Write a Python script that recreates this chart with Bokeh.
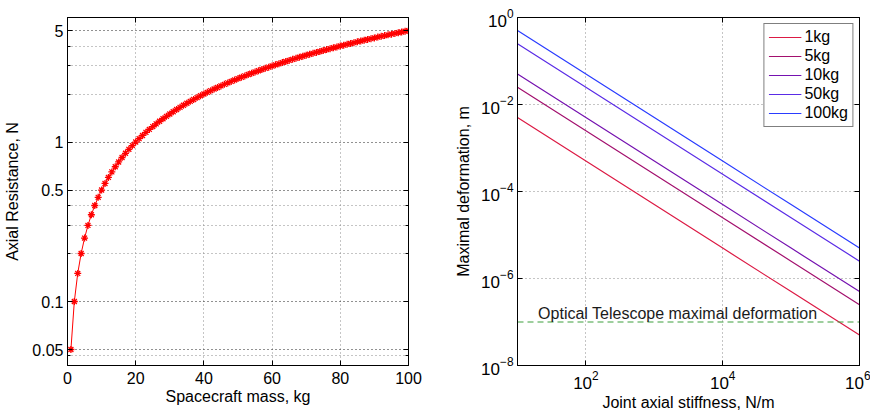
from bokeh.plotting import figure
from bokeh.models import (FixedTicker, LogAxis, LinearAxis, CustomJSTickFormatter,
                          LogTickFormatter, Range1d, Legend, LegendItem, Label)
from bokeh.layouts import row
from bokeh.embed import file_html
from bokeh.resources import INLINE

# ---------------- data ----------------
mass_kg = [1, 2, 3, 4, 5, 6, 7, 8, 9, 10,
           11, 12, 13, 14, 15, 16, 17, 18, 19, 20,
           21, 22, 23, 24, 25, 26, 27, 28, 29, 30,
           31, 32, 33, 34, 35, 36, 37, 38, 39, 40,
           41, 42, 43, 44, 45, 46, 47, 48, 49, 50,
           51, 52, 53, 54, 55, 56, 57, 58, 59, 60,
           61, 62, 63, 64, 65, 66, 67, 68, 69, 70,
           71, 72, 73, 74, 75, 76, 77, 78, 79, 80,
           81, 82, 83, 84, 85, 86, 87, 88, 89, 90,
           91, 92, 93, 94, 95, 96, 97, 98, 99, 100]
axial_resistance_N = [0.05, 0.10, 0.15, 0.20, 0.25, 0.30, 0.35, 0.40, 0.45, 0.50,
                      0.55, 0.60, 0.65, 0.70, 0.75, 0.80, 0.85, 0.90, 0.95, 1.00,
                      1.05, 1.10, 1.15, 1.20, 1.25, 1.30, 1.35, 1.40, 1.45, 1.50,
                      1.55, 1.60, 1.65, 1.70, 1.75, 1.80, 1.85, 1.90, 1.95, 2.00,
                      2.05, 2.10, 2.15, 2.20, 2.25, 2.30, 2.35, 2.40, 2.45, 2.50,
                      2.55, 2.60, 2.65, 2.70, 2.75, 2.80, 2.85, 2.90, 2.95, 3.00,
                      3.05, 3.10, 3.15, 3.20, 3.25, 3.30, 3.35, 3.40, 3.45, 3.50,
                      3.55, 3.60, 3.65, 3.70, 3.75, 3.80, 3.85, 3.90, 3.95, 4.00,
                      4.05, 4.10, 4.15, 4.20, 4.25, 4.30, 4.35, 4.40, 4.45, 4.50,
                      4.55, 4.60, 4.65, 4.70, 4.75, 4.80, 4.85, 4.90, 4.95, 5.00]

left_x_ticks = [0, 20, 40, 60, 80, 100]
left_y_ticks = [0.05, 0.1, 0.5, 1, 5]
left_y_minor = [0.046, 0.2, 0.3, 0.4, 2, 3, 4]

stiffness_Nm = [1e1, 1e2, 1e3, 1e4, 1e5, 1e6]
mass_labels = ["1kg", "5kg", "10kg", "50kg", "100kg"]
deformation_m = {
    "1kg":   [5e-3, 5e-4, 5e-5, 5e-6, 5e-7, 5e-8],
    "5kg":   [2.5e-2, 2.5e-3, 2.5e-4, 2.5e-5, 2.5e-6, 2.5e-7],
    "10kg":  [5e-2, 5e-3, 5e-4, 5e-5, 5e-6, 5e-7],
    "50kg":  [2.5e-1, 2.5e-2, 2.5e-3, 2.5e-4, 2.5e-5, 2.5e-6],
    "100kg": [5e-1, 5e-2, 5e-3, 5e-4, 5e-5, 5e-6],
}
telescope_x = [1e1, 1e6]
telescope_y = [1e-7, 1e-7]
right_x_ticks = [1e2, 1e4, 1e6]
right_y_ticks = [1e-8, 1e-6, 1e-4, 1e-2, 1e0]

line_colors = ["#dc1a44", "#a3106e", "#7512b0", "#5a2ce6", "#2a3cff"]

FONT = "Liberation Sans"
FS = "16px"
TFS = "17px"

def style_axis(ax, tfs=TFS):
    ax.axis_line_color = "black"
    ax.major_tick_in = 5
    ax.major_tick_out = 0
    ax.minor_tick_in = 3
    ax.minor_tick_out = 0
    ax.major_tick_line_color = "black"
    ax.minor_tick_line_color = "black"
    ax.major_label_text_font = FONT
    ax.major_label_text_font_size = tfs
    ax.major_label_text_color = "black"
    ax.axis_label_text_font = FONT
    ax.axis_label_text_font_size = FS
    ax.axis_label_text_font_style = "normal"
    ax.axis_label_text_color = "black"

blank = CustomJSTickFormatter(code="return '';")

# ---------------- left plot ----------------
p1 = figure(frame_width=341, frame_height=348,
            x_range=Range1d(0, 100), y_range=Range1d(0.0397, 6.04),
            y_axis_type="log", output_backend="svg", toolbar_location=None,
            min_border_left=67, min_border_right=27, min_border_top=17,
            min_border_bottom=46)
p1.outline_line_color = "black"
p1.background_fill_color = "white"
p1.border_fill_color = "white"

xt1 = FixedTicker(ticks=left_x_ticks, minor_ticks=[])
yt1 = FixedTicker(ticks=left_y_ticks, minor_ticks=left_y_minor)
p1.xaxis.ticker = xt1
p1.yaxis.ticker = yt1
p1.xaxis.axis_label = "Spacecraft mass, kg"
p1.yaxis.axis_label = "Axial Resistance, N"
p1.yaxis.formatter = CustomJSTickFormatter(code="return String(tick);")
for ax in p1.xaxis + p1.yaxis:
    style_axis(ax, "16px")
p1.xaxis.major_label_standoff = 6
p1.xaxis.axis_label_standoff = 1
p1.yaxis.major_label_standoff = 4
p1.yaxis.axis_label_standoff = 8

p1.xgrid.ticker = xt1
p1.xgrid.grid_line_color = "#8a8a8a"
p1.xgrid.grid_line_dash = "1 3"
p1.ygrid.ticker = yt1
p1.ygrid.grid_line_color = "#222222"
p1.ygrid.grid_line_dash = "1 3"
p1.ygrid.minor_grid_line_color = "#8a8a8a"
p1.ygrid.minor_grid_line_dash = "1 3"

top1 = LinearAxis(ticker=xt1, formatter=blank)
right1 = LogAxis(ticker=yt1, formatter=blank)
for ax in (top1, right1):
    style_axis(ax)
    ax.major_label_text_font_size = "1px"
p1.add_layout(top1, "above")
p1.add_layout(right1, "right")

p1.line(mass_kg, axial_resistance_N, line_color="red", line_width=1)
p1.scatter(mass_kg, axial_resistance_N, marker="asterisk", size=7,
           line_color="red", line_width=1.3)

# ---------------- right plot ----------------
p2 = figure(frame_width=342, frame_height=348,
            x_range=Range1d(1e1, 1e6), y_range=Range1d(1e-8, 1e0),
            x_axis_type="log", y_axis_type="log",
            output_backend="svg", toolbar_location=None,
            min_border_left=82, min_border_right=11, min_border_top=17,
            min_border_bottom=46)
p2.outline_line_color = "black"
p2.background_fill_color = "white"
p2.border_fill_color = "white"

xt2 = FixedTicker(ticks=right_x_ticks, minor_ticks=[])
yt2 = FixedTicker(ticks=right_y_ticks, minor_ticks=[])
p2.xaxis.ticker = xt2
p2.yaxis.ticker = yt2
p2.xaxis.formatter = LogTickFormatter()
p2.yaxis.formatter = LogTickFormatter()
p2.xaxis.axis_label = "Joint axial stiffness, N/m"
p2.yaxis.axis_label = "Maximal deformation, m"
for ax in p2.xaxis + p2.yaxis:
    style_axis(ax)
p2.xaxis.major_label_standoff = 5
p2.xaxis.axis_label_standoff = 2
p2.yaxis.major_label_standoff = 4
p2.yaxis.axis_label_standoff = 6

for g in (p2.xgrid, p2.ygrid):
    g.grid_line_color = "#8a8a8a"
    g.grid_line_dash = "1 3"
p2.xgrid.ticker = xt2
p2.ygrid.ticker = yt2

top2 = LogAxis(ticker=xt2, formatter=blank)
right2 = LogAxis(ticker=yt2, formatter=blank)
for ax in (top2, right2):
    style_axis(ax)
    ax.major_label_text_font_size = "1px"
p2.add_layout(top2, "above")
p2.add_layout(right2, "right")

items = []
for lab, col in zip(mass_labels, line_colors):
    r = p2.line(stiffness_Nm, deformation_m[lab], line_color=col, line_width=1.2)
    items.append(LegendItem(label=lab, renderers=[r]))

p2.line(telescope_x, telescope_y, line_color="#3f9f3f", line_width=1.2,
        line_dash="6 4")
p2.add_layout(Label(x=20, y=1.6e-7, text="Optical Telescope maximal deformation",
                    text_font=FONT, text_font_size=FS, text_color="#1a1a1a",
                    text_baseline="alphabetic"))

legend = Legend(items=items, location="top_right", margin=6,
                label_text_font=FONT, label_text_font_size=FS,
                label_text_color="black",
                label_height=18, glyph_height=18, glyph_width=33,
                label_standoff=3, spacing=1, padding=4,
                border_line_color="black", border_line_width=1,
                background_fill_color="white", background_fill_alpha=1)
p2.add_layout(legend)

layout = row(p1, p2)
with open("out.html", "w", encoding="utf-8") as f:
    f.write(file_html(layout, INLINE))
